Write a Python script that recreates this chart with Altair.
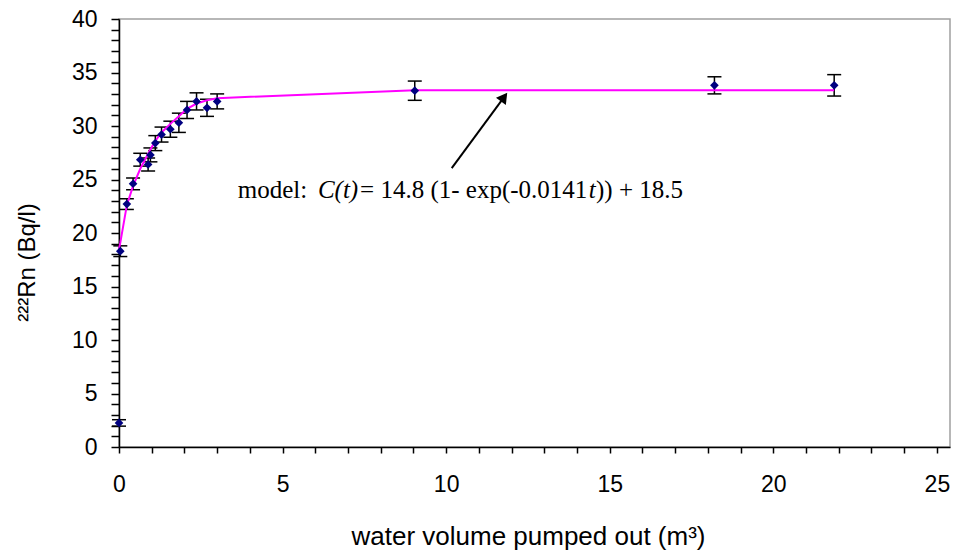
import altair as alt
import pandas as pd

# ---- data ----
vol = [0.0, 0.04, 0.24, 0.43, 0.65, 0.89, 0.96, 1.11, 1.30, 1.57, 1.83, 2.08, 2.37, 2.69, 3.00, 9.04, 18.20, 21.86]
rn = [2.25, 18.3, 22.7, 24.6, 26.85, 26.4, 27.3, 28.4, 29.2, 29.7, 30.3, 31.5, 32.3, 31.7, 32.3, 33.3, 33.8, 33.8]
err = [0.3, 0.5, 0.5, 0.55, 0.6, 0.6, 0.65, 0.7, 0.7, 0.75, 0.9, 0.8, 0.8, 0.8, 0.7, 0.9, 0.8, 1.0]

model_x = [0.0, 0.04, 0.24, 0.43, 0.65, 0.89, 0.96, 1.11, 1.30, 1.57, 1.83, 2.08, 2.37, 2.69, 3.00, 9.04, 18.20, 21.86]
model_y = [18.5, 19.1, 22.6, 24.4, 26.0, 27.4, 27.8, 28.6, 29.4, 30.2, 30.9, 31.6, 32.1, 32.4, 32.6, 33.35, 33.35, 33.35]

x_ticks = list(range(0, 26))
y_ticks = list(range(0, 41))

eq_text = ["model:", "C(t)", "= 14.8 (1- exp(-0.0141", "t", ")) + 18.5"]
eq_x = [3.63, 6.08, 7.37, 14.36, 14.58]
eq_italic = [False, True, False, True, False]
eq_y = 23.3

arrow_x = [10.17]
arrow_y = [26.07]
arrow_x2 = [11.77]
arrow_y2 = [32.7]

# ---- tables ----
df = pd.DataFrame({"vol": vol, "rn": rn, "err": err})
df["lo"] = df["rn"] - df["err"]
df["hi"] = df["rn"] + df["err"]
model = pd.DataFrame({"vol": model_x, "rn": model_y})
eq = pd.DataFrame({"vol": eq_x, "rn": [eq_y] * len(eq_x), "txt": eq_text, "it": eq_italic})
arrow = pd.DataFrame({"vol": arrow_x, "rn": arrow_y, "vol2": arrow_x2, "rn2": arrow_y2})

xs = alt.Scale(domain=[0, 25.4], nice=False, zero=False)
ys = alt.Scale(domain=[0, 40], nice=False, zero=False)

five = "datum.value % 5 === 0 ? datum.label : ''"
xaxis = alt.Axis(values=x_ticks, labelExpr=five, tickSize=6, labelPadding=20,
                 labelOverlap=False, labelFlush=False,
                 title="water volume pumped out (m³)", titleX=409, titleY=97,
                 titleAlign="center", titleBaseline="alphabetic", titleFontSize=26)
yaxis = alt.Axis(values=y_ticks, labelExpr=five, tickSize=8, labelPadding=14,
                 labelOverlap=False,
                 title="²²²Rn (Bq/l)", titleAngle=270, titleX=-92, titleY=243,
                 titleAlign="center", titleBaseline="middle")

X = lambda f: alt.X(f, type="quantitative", scale=xs, axis=xaxis)
Y = lambda f: alt.Y(f, type="quantitative", scale=ys, axis=yaxis)

bars = alt.Chart(df).mark_rule(color="black", strokeWidth=1.5).encode(
    x=X("vol"), y=Y("lo"), y2="hi")
cap_lo = alt.Chart(df).mark_tick(orient="horizontal", size=14, thickness=1.5, color="black", opacity=1).encode(
    x=X("vol"), y=Y("lo"))
cap_hi = alt.Chart(df).mark_tick(orient="horizontal", size=14, thickness=1.5, color="black", opacity=1).encode(
    x=X("vol"), y=Y("hi"))
line = alt.Chart(model).mark_line(color="#ff00ff", strokeWidth=2).encode(
    x=X("vol"), y=Y("rn"))
pts = alt.Chart(df).mark_point(shape="diamond", filled=True, size=75, color="#000080", opacity=1).encode(
    x=X("vol"), y=Y("rn"))

eq_norm = alt.Chart(eq).transform_filter("!datum.it").mark_text(
    font="Liberation Serif", fontSize=25, align="left", baseline="alphabetic", color="black").encode(
    x=X("vol"), y=Y("rn"), text="txt:N")
eq_ital = alt.Chart(eq).transform_filter("datum.it").mark_text(
    font="Liberation Serif", fontSize=25, fontStyle="italic", align="left", baseline="alphabetic", color="black").encode(
    x=X("vol"), y=Y("rn"), text="txt:N")

arrow_line = alt.Chart(arrow).mark_rule(color="black", strokeWidth=2).encode(
    x=X("vol"), y=Y("rn"), x2="vol2", y2="rn2")
arrow_head = alt.Chart(arrow).mark_point(shape="triangle-up", angle=36.5, filled=True, size=150,
                                         color="black", opacity=1).encode(
    x=X("vol2"), y=Y("rn2"))

chart = alt.layer(bars, cap_lo, cap_hi, line, pts, eq_norm, eq_ital, arrow_line, arrow_head).properties(
    width=831, height=428,
    padding={"left": 119, "top": 19, "right": 10, "bottom": 103},
    autosize=alt.AutoSizeParams(type="none"),
    background="white",
).configure_view(
    stroke="#a0a0a0", strokeWidth=1.5
).configure_axis(
    grid=False, domainColor="black", domainWidth=1.5, tickColor="black", tickWidth=1.5,
    labelFont="Liberation Sans", labelFontSize=23, labelColor="black",
    titleFont="Liberation Sans", titleFontSize=24, titleFontWeight="normal", titleColor="black",
)

chart.save("out.html", embed_options={"renderer": "svg", "actions": False})
